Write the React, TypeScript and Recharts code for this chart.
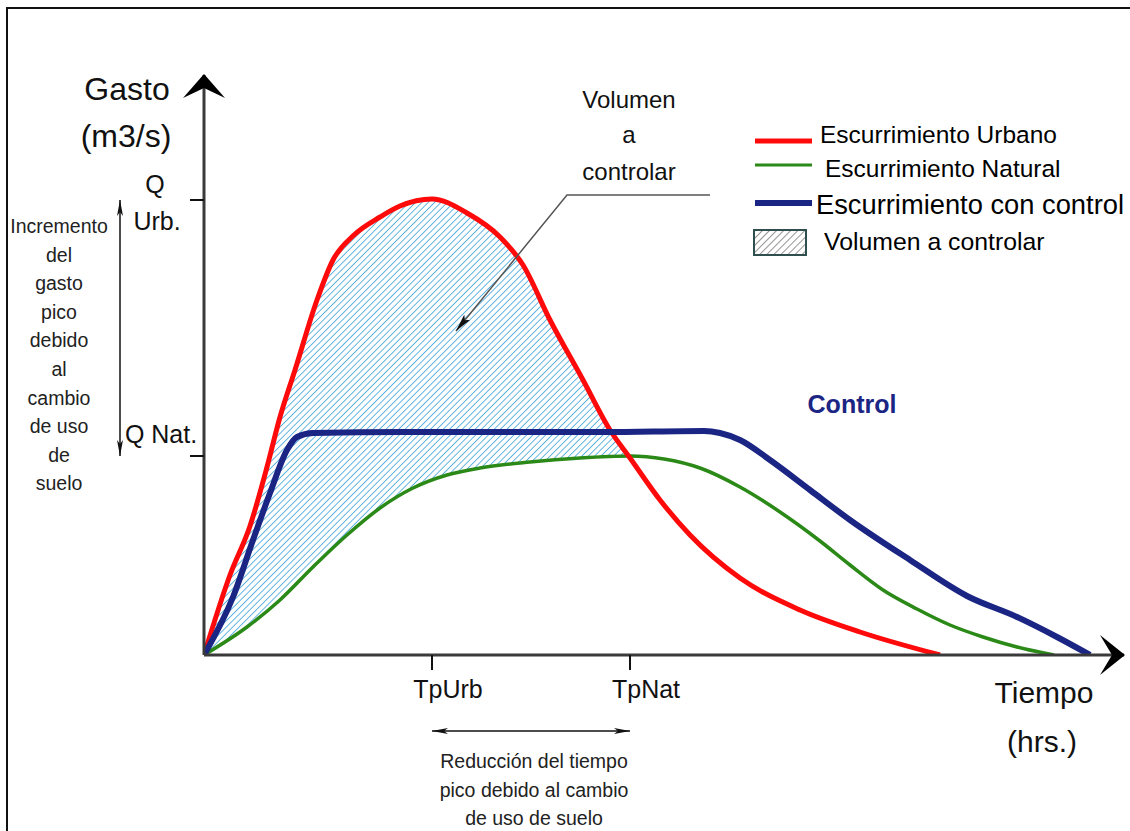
import React from 'react'
import {
  ComposedChart, XAxis, YAxis, Line, Area,
  ReferenceDot, ReferenceLine, Legend
} from 'recharts'

const FONT = '"Liberation Sans", Arial, sans-serif'

// tiempo (x) y gasto (y)
const URB_T = [0, 2.6, 4.6, 6.3, 7.6, 9.1, 11.3, 12.9, 15, 17.6, 19.6, 22.8, 26.3, 29.6, 31.9, 34.6, 37.9, 40.6, 42.6, 45.6, 48.6, 53.6, 59.6, 65.6, 73.6]
const URB_Q = [0, 8.0, 12.9, 18.8, 23.8, 28.5, 35.5, 39.5, 42, 43.8, 44.9, 45.6, 44.2, 41.8, 39, 33.5, 27.5, 22.5, 19.7, 15.5, 12, 7.7, 4.5, 2.3, 0]

const NAT_T = [0, 4.3, 7.6, 10.9, 14.3, 17.6, 20.9, 24.3, 27.6, 32.6, 37.6, 42.6, 46, 49.6, 53.6, 57.6, 61.6, 64.6, 67.9, 71.3, 74.6, 77.9, 81.3, 85]
const NAT_Q = [0, 2.8, 5.5, 8.8, 12.0, 14.7, 16.7, 18, 18.7, 19.3, 19.7, 19.9, 19.6, 18.7, 16.8, 14.3, 11.4, 9.0, 6.5, 4.6, 3.0, 1.8, 0.8, 0]

const CTRL_T = [0, 2.9, 4.9, 6.6, 8.3, 9.3, 10.9, 20, 30, 40, 50, 51.6, 53.6, 56.6, 60.6, 64.6, 70.6, 76.3, 81.3, 85.3, 88.6]
const CTRL_Q = [0, 5.8, 11.5, 16.2, 20.5, 21.8, 22.2, 22.3, 22.3, 22.3, 22.4, 22.2, 21.5, 19.5, 16.5, 13.5, 9.5, 5.9, 3.8, 1.8, 0]

const TP_URB = 22.8
const TP_NAT = 42.6
const Q_URB = 45.5
const Q_NAT = 19.9
const T_MAX = 92
const Q_MAX = 58

const X_TICKS = [TP_URB, TP_NAT]
const X_TICK_LABELS = ['TpUrb', 'TpNat']
const Y_TICKS = [Q_NAT, Q_URB]

const LEFT_NOTE = ['Incremento', 'del', 'gasto', 'pico', 'debido', 'al', 'cambio', 'de uso', 'de', 'suelo']
const BOTTOM_NOTE = ['Reducción del tiempo', 'pico debido al cambio', 'de uso de suelo']

const RED = '#ff0a0a'
const GREEN = '#2b8a17'
const NAVY = '#1b2583'

const toPts = (t: number[], q: number[]) => t.map((x, i) => ({ t: x, q: q[i] }))
const urban = toPts(URB_T, URB_Q)
const natural = toPts(NAT_T, NAT_Q)
const control = toPts(CTRL_T, CTRL_Q)
const hatchTop = urban.filter((p) => p.t <= TP_NAT)
const hatchMask = natural.filter((p) => p.t <= TP_NAT)

const XTick = (props: any) => {
  const i = X_TICKS.indexOf(props.payload.value)
  return (
    <text x={props.x + 16} y={props.y + 26} textAnchor="middle" fontSize={25} fontFamily={FONT} fill="#111">
      {X_TICK_LABELS[i]}
    </text>
  )
}

const YTick = (props: any) => {
  const { x, y, payload } = props
  if (payload.value === Q_URB) {
    return (
      <g fontSize={25} fontFamily={FONT} fill="#111" textAnchor="middle">
        <text x={x - 33} y={y - 7}>Q</text>
        <text x={x - 31} y={y + 30}>Urb.</text>
      </g>
    )
  }
  return (
    <text x={x - 27} y={y - 13} fontSize={25} fontFamily={FONT} fill="#111" textAnchor="middle">Q Nat.</text>
  )
}

const LegendBox = () => (
  <svg width={380} height={150} style={{ fontFamily: FONT }}>
    <defs>
      <pattern id="legHatch" width="5" height="5" patternUnits="userSpaceOnUse" patternTransform="rotate(45)">
        <line x1="0" y1="0" x2="0" y2="5" stroke="#7a7a7a" strokeWidth="1.6" />
      </pattern>
    </defs>
    <line x1={5} x2={62} y1={26} y2={26} stroke={RED} strokeWidth={5} />
    <text x={70} y={28} fontSize={24.5} fill="#000">Escurrimiento Urbano</text>
    <line x1={5} x2={62} y1={50} y2={50} stroke={GREEN} strokeWidth={3} />
    <text x={75} y={62} fontSize={24.5} fill="#000">Escurrimiento Natural</text>
    <line x1={5} x2={62} y1={88} y2={88} stroke={NAVY} strokeWidth={6} />
    <text x={66} y={99} fontSize={27.3} fill="#000">Escurrimiento con control</text>
    <rect x={4} y={115} width={52} height={25} fill="url(#legHatch)" stroke="#2f4f4f" strokeWidth={2} />
    <text x={74} y={135} fontSize={24.8} fill="#000">Volumen a controlar</text>
  </svg>
)

const DoubleArrow = (props: any) => (
  <line x1={props.x1} y1={props.y1} x2={props.x2} y2={props.y2} stroke="#111" strokeWidth={1.5}
        markerStart="url(#thinArrow)" markerEnd="url(#thinArrow)" />
)

export default function App() {
  return (
    <div style={{ position: 'absolute', left: 0, top: 0, width: 1130, height: 831, background: '#fff', overflow: 'hidden' }}>
      <div style={{ position: 'absolute', left: 6, top: 7, width: 1200, height: 900, borderLeft: '2px solid #111', borderTop: '2px solid #111' }} />
      <ComposedChart width={1130} height={831} margin={{ top: 75, right: 6, bottom: 146, left: 144 }}>
        <defs>
          <pattern id="hatch" width="4.5" height="4.5" patternUnits="userSpaceOnUse" patternTransform="rotate(45)">
            <line x1="0" y1="0" x2="0" y2="4.5" stroke="#55aede" strokeWidth="1.8" />
          </pattern>
          <marker id="thinArrow" viewBox="0 0 16 6" refX="16" refY="3" markerWidth="16" markerHeight="6"
                  markerUnits="userSpaceOnUse" orient="auto-start-reverse">
            <path d="M0,0 L16,3 L0,6 L4,3 Z" fill="#111" />
          </marker>
        </defs>
        <XAxis dataKey="t" type="number" domain={[0, T_MAX]} ticks={X_TICKS} height={30}
               axisLine={{ stroke: '#3a3a3a', strokeWidth: 3 }} tickLine={{ stroke: '#111', strokeWidth: 2 }}
               tickSize={15} tick={<XTick />} interval={0} allowDataOverflow />
        <YAxis type="number" domain={[0, Q_MAX]} ticks={Y_TICKS} width={60}
               axisLine={{ stroke: '#3a3a3a', strokeWidth: 3 }} tickLine={{ stroke: '#111', strokeWidth: 2 }}
               tickSize={14} tick={<YTick />} interval={0} allowDataOverflow />
        <Area data={hatchTop} dataKey="q" type="monotone" fill="url(#hatch)" fillOpacity={1}
              stroke="none" isAnimationActive={false} legendType="none" />
        <Area data={hatchMask} dataKey="q" type="monotone" fill="#fff" fillOpacity={1}
              stroke="none" isAnimationActive={false} legendType="none" />
        <Line data={natural} dataKey="q" name="Escurrimiento Natural" type="monotone" stroke={GREEN}
              strokeWidth={3.5} dot={false} isAnimationActive={false} />
        <Line data={urban} dataKey="q" name="Escurrimiento Urbano" type="monotone" stroke={RED}
              strokeWidth={5} dot={false} isAnimationActive={false} />
        <Line data={control} dataKey="q" name="Escurrimiento con control" type="monotone" stroke={NAVY}
              strokeWidth={6} dot={false} isAnimationActive={false} />
        <ReferenceLine segment={[{ x: -8.4, y: Q_NAT }, { x: -8.4, y: Q_URB }]} ifOverflow="visible" shape={DoubleArrow} />
        <ReferenceLine segment={[{ x: TP_URB, y: -7.6 }, { x: TP_NAT, y: -7.6 }]} ifOverflow="visible" shape={DoubleArrow} />
        <ReferenceDot x={0} y={Q_MAX} ifOverflow="visible"
                      shape={(p: any) => <path d={`M${p.cx},${p.cy - 1} L${p.cx + 21},${p.cy + 23} L${p.cx},${p.cy + 13} L${p.cx - 21},${p.cy + 23} Z`} fill="#000" />} />
        <ReferenceDot x={T_MAX} y={0} ifOverflow="visible"
                      shape={(p: any) => <path d={`M${p.cx + 1},${p.cy} L${p.cx - 24},${p.cy - 20} L${p.cx - 12},${p.cy} L${p.cx - 24},${p.cy + 20} Z`} fill="#000" />} />
        <Legend verticalAlign="middle" layout="horizontal" content={() => <LegendBox />}
                wrapperStyle={{ left: 750, top: 115, width: 380, height: 150 }} />
      </ComposedChart>
      <svg width={1130} height={831} style={{ position: 'absolute', left: 0, top: 0, pointerEvents: 'none', fontFamily: FONT }}>
        <defs>
          <marker id="leadArrow" viewBox="0 0 18 8" refX="18" refY="4" markerWidth="18" markerHeight="8"
                  markerUnits="userSpaceOnUse" orient="auto">
            <path d="M0,0 L18,4 L0,8 L4,4 Z" fill="#111" />
          </marker>
        </defs>
        <text x={127} y={100} fontSize={32} textAnchor="middle" fill="#111">Gasto</text>
        <text x={126} y={147} fontSize={32} textAnchor="middle" fill="#111">(m3/s)</text>
        {LEFT_NOTE.map((s, i) => (
          <text key={i} x={59} y={233 + i * 28.6} fontSize={19.5} textAnchor="middle" fill="#222">{s}</text>
        ))}
        {BOTTOM_NOTE.map((s, i) => (
          <text key={i} x={534} y={768 + i * 28.5} fontSize={19.5} textAnchor="middle" fill="#222">{s}</text>
        ))}
        <text x={1044} y={703} fontSize={30} textAnchor="middle" fill="#111">Tiempo</text>
        <text x={1042} y={752} fontSize={30} textAnchor="middle" fill="#111">(hrs.)</text>
        <text x={629} y={108} fontSize={24} textAnchor="middle" fill="#111">Volumen</text>
        <text x={629} y={143} fontSize={24} textAnchor="middle" fill="#111">a</text>
        <text x={629} y={180} fontSize={24} textAnchor="middle" fill="#111">controlar</text>
        <polyline points="710,195 567,195 456,331" fill="none" stroke="#555" strokeWidth={1.5} markerEnd="url(#leadArrow)" />
        <text x={852} y={413} fontSize={25} fontWeight="bold" textAnchor="middle" fill={NAVY}>Control</text>
      </svg>
    </div>
  )
}
